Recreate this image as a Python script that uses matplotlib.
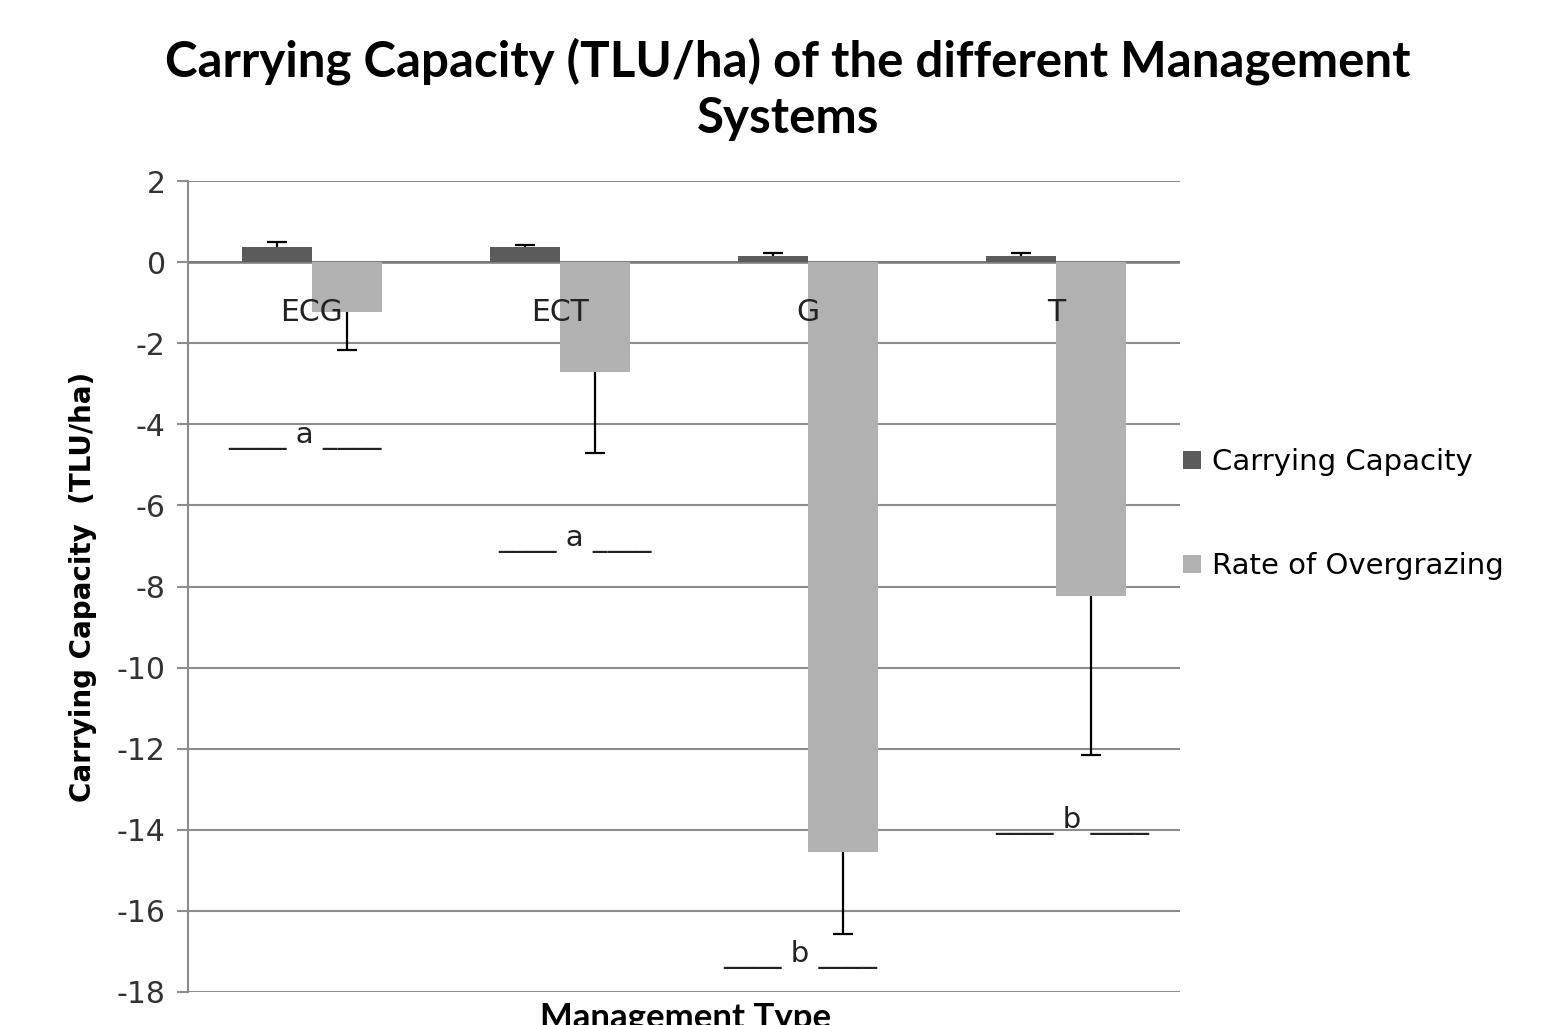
import numpy as np
import matplotlib
matplotlib.use("Agg")
import matplotlib.pyplot as plt

# data
systems = ["ECG", "ECT", "G", "T"]
carrying_capacity = [0.38, 0.37, 0.16, 0.16]
cc_err = [0.12, 0.06, 0.07, 0.07]
overgrazing = [-1.23, -2.70, -14.55, -8.24]
og_err = [0.94, 2.01, 2.02, 3.92]
sig_letters = ["a", "a", "b", "b"]
sig_y = [-4.45, -7.0, -17.25, -13.95]
sig_dx = [-0.03, 0.06, -0.03, 0.065]

DARK = "#5b5b5b"
LIGHT = "#b1b1b1"
GRID = "#8c8c8c"

fig = plt.figure(figsize=(15.66, 10.25), dpi=100)
ax = fig.add_axes([0.120, 0.0322, 0.6335, 0.7912])

x = np.arange(len(systems))
w = 0.283

ax.bar(x - w / 2, carrying_capacity, w, color=DARK, zorder=3, label="Carrying Capacity")
ax.bar(x + w / 2, overgrazing, w, color=LIGHT, zorder=3, label="Rate of Overgrazing")

# one-sided error bars like excel
cc_top = np.array(carrying_capacity) + np.array(cc_err)
og_bot = np.array(overgrazing) - np.array(og_err)
ax.vlines(x - w / 2, carrying_capacity, cc_top, color="black", lw=1.6, zorder=4)
ax.plot(x - w / 2, cc_top, ls="none", marker="_", ms=15, mew=1.6, color="black", zorder=4)
ax.vlines(x + w / 2, overgrazing, og_bot, color="black", lw=1.6, zorder=4)
ax.plot(x + w / 2, og_bot, ls="none", marker="_", ms=15, mew=1.6, color="black", zorder=4)

# category names sit just under the zero line
for i, name in enumerate(systems):
    ax.text(x[i], -1.25, name, ha="center", va="center", fontsize=21.5,
            color="#222222", zorder=5)

# significance letters
for i, let in enumerate(sig_letters):
    ax.text(x[i] + sig_dx[i], sig_y[i], "____ " + let + " ____", ha="center",
            va="baseline", fontsize=21, color="#222222", zorder=5)

ax.set_xlim(-0.5, len(systems) - 0.5)
ax.set_ylim(-18, 2)
ax.set_yticks(np.arange(-18, 3, 2))
ax.set_yticklabels([str(v) for v in range(-18, 3, 2)])
ax.set_xticks([])
ax.yaxis.grid(True, color=GRID, lw=1.5, zorder=0)
ax.axhline(0, color="#7a7a7a", lw=1.8, zorder=2)
for s in ["top", "right", "bottom"]:
    ax.spines[s].set_visible(False)
ax.spines["left"].set_color(GRID)
ax.spines["left"].set_linewidth(1.5)
ax.tick_params(axis="y", length=8, width=1.5, color=GRID, labelsize=21.5,
               labelcolor="#333333", pad=8)

ax.set_ylabel("Carrying Capacity  (TLU/ha)", fontsize=20, fontweight="bold",
              family=["Liberation Sans Narrow", "DejaVu Sans"], labelpad=14)

fig.text(0.503, 0.9127, "Carrying Capacity (TLU/ha) of the different Management\nSystems",
         ha="center", va="center", fontsize=35.5, fontweight="bold",
         family=["Lato", "DejaVu Sans"], linespacing=1.3)

# axis title is clipped by the bottom edge in the original too
fig.text(0.438, 0.0225, "Management Type", ha="center", va="top", fontsize=25,
         fontweight="bold", family=["Lato", "DejaVu Sans"])

ax.legend(loc="upper left", bbox_to_anchor=(0.748, 0.574),
          bbox_transform=fig.transFigure, frameon=False, fontsize=21,
          handlelength=0.6, handleheight=0.6, handletextpad=0.4,
          labelspacing=2.6, borderaxespad=0)

fig.savefig("out.png", dpi=100)
